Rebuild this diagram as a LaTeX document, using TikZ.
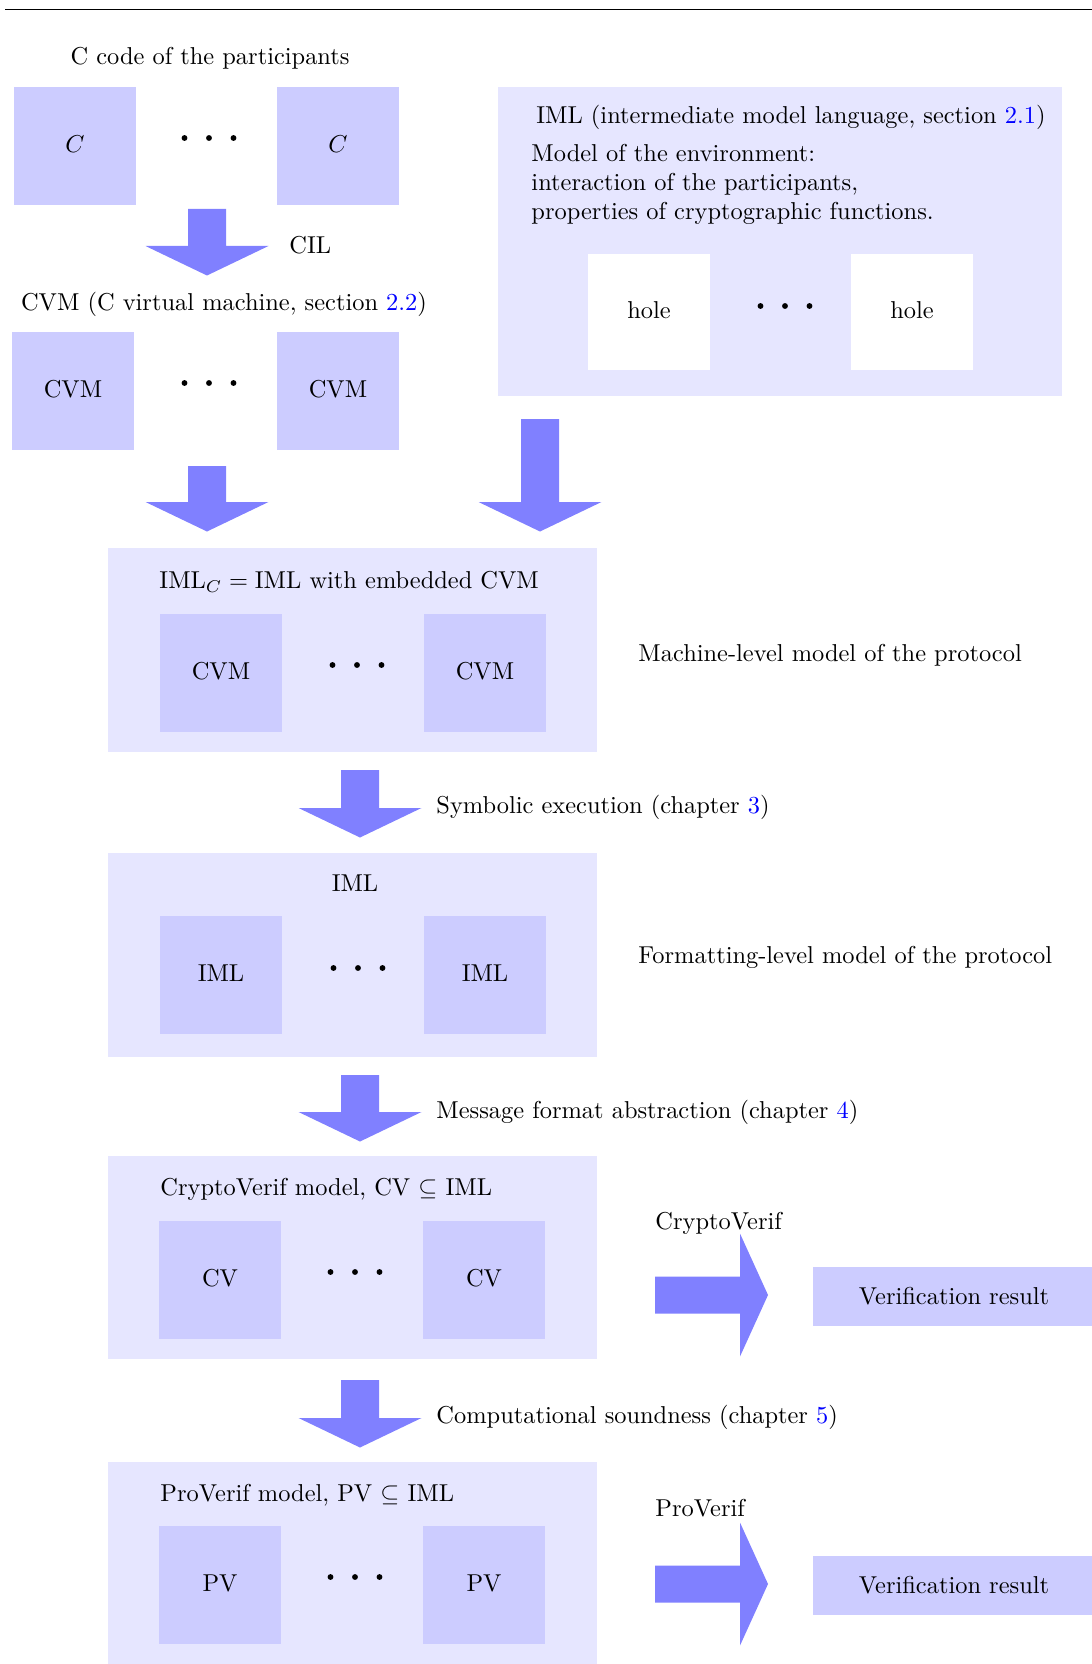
\documentclass[tikz,border=0pt]{standalone}
\usetikzlibrary{fit}
\definecolor{boxc}{RGB}{204,204,255}
\definecolor{contc}{RGB}{230,230,255}
\definecolor{arrc}{RGB}{128,128,255}
\newcommand\threedots[2]{\foreach \dx in {-24.5,0,24.5}{\fill ({#1+\dx},#2) circle[radius=1.2pt];}}
\begin{document}
\begin{tikzpicture}[x=0.4095pt,y=-0.4095pt,
  inbox/.style={fill=boxc, minimum width=49.96pt, minimum height=48.32pt, inner sep=0pt, text depth=1.4pt},
  holebox/.style={fill=white, minimum width=49.96pt, minimum height=47.9pt, inner sep=0pt, text depth=1.4pt},
  cont/.style={fill=contc, inner sep=0pt},
  lbl/.style={inner sep=0pt, text depth=0pt},
  resbox/.style={fill=boxc, minimum width=115.5pt, minimum height=24.16pt, inner sep=0pt},
  arrfill/.style={fill=arrc},
  pics/downarr/.style={code={\fill[arrfill] (-19,0) -- (19,0) -- (19,#1) -- (61.5,#1) -- (0,#1+29.5) -- (-61.5,#1) -- (-19,#1) -- cycle;}},
  pics/rightarr/.style={code={\fill[arrfill] (0,-18.5) -- (85,-18.5) -- (85,-61.5) -- (113,0) -- (85,61.5) -- (85,18.5) -- (0,18.5) -- cycle;}},
]
\useasboundingbox (0,0) rectangle (1092,1664);
\clip (0,0) rectangle (1092,1664);
% top rule
\draw[line width=0.4pt] (5,9.5) coordinate (tl) -- (1092,9.5) coordinate (tr);

% C code
\node[lbl] (ccode) at (210,56) {C code of the participants};
\node[inbox] (c1) at (75,146) {$C$};
\node[inbox] (c2) at (338,146) {$C$};
\threedots{209}{138}
\pic at (207,209) {downarr=37};
\node[lbl, anchor=west] (cil) at (289,245) {CIL};

% CVM
\node[lbl] (cvmtitle) at (224,301) {CVM (C virtual machine, section \textcolor{blue}{2.2})};
\node[inbox] (cvm1) at (73,391) {CVM};
\node[inbox] (cvm2) at (338,391) {CVM};
\threedots{209}{383}

% IML environment
\node[cont, fit={(498,87) (1062,396)}] (env) {};
\node[lbl] (imltitle) at (791,114) {IML (intermediate model language, section \textcolor{blue}{2.1})};
\node[lbl, anchor=west, align=left] (envtxt) at (531,182) {Model of the environment:\\interaction of the participants,\\properties of cryptographic functions.};
\node[holebox] (h1) at (649,312) {hole};
\node[holebox] (h2) at (912,312) {hole};
\threedots{785}{306}

\pic at (207,466) {downarr=36};
\pic at (540,419) {downarr=83};

% IML_C
\node[cont, fit={(108,548) (597,752)}] (imlc) {};
\node[lbl, anchor=west] (imlctitle) at (159,580) {$\mathrm{IML}_C = \mathrm{IML}$ with embedded CVM};
\node[inbox] (m1) at (221,673) {CVM};
\node[inbox] (m2) at (485,673) {CVM};
\threedots{357}{665}
\node[lbl, anchor=west] (mlevel) at (638,653) {Machine-level model of the protocol};

\pic at (360,770) {downarr=38};
\node[lbl, anchor=west] (symb) at (436,804) {Symbolic execution (chapter \textcolor{blue}{3})};

% IML
\node[cont, fit={(108,853) (597,1057)}] (iml) {};
\node[lbl] (imlt) at (355,883) {IML};
\node[inbox] (i1) at (221,975) {IML};
\node[inbox] (i2) at (485,975) {IML};
\threedots{358}{968}
\node[lbl, anchor=west] (flevel) at (638,955) {Formatting-level model of the protocol};

\pic at (360,1075) {downarr=37};
\node[lbl, anchor=west] (mfa) at (436,1109) {Message format abstraction (chapter \textcolor{blue}{4})};

% CV
\node[cont, fit={(108,1156) (597,1359)}] (cv) {};
\node[lbl, anchor=west] (cvt) at (160,1187) {CryptoVerif model, CV $\subseteq$ IML};
\node[inbox] (cv1) at (220,1280) {CV};
\node[inbox] (cv2) at (484,1280) {CV};
\threedots{355}{1272}
\node[lbl, anchor=west] (cvtool) at (655,1221) {CryptoVerif};
\pic at (655,1295) {rightarr};
\node[resbox] (vr1) at (954,1296) {Verification result};

\pic at (360,1380) {downarr=38};
\node[lbl, anchor=west] (cs) at (436,1414) {Computational soundness (chapter \textcolor{blue}{5})};

% PV
\node[cont, fit={(108,1462) (597,1665)}] (pv) {};
\node[lbl, anchor=west] (pvt) at (160,1493) {ProVerif model, PV $\subseteq$ IML};
\node[inbox] (pv1) at (220,1585) {PV};
\node[inbox] (pv2) at (484,1585) {PV};
\threedots{355}{1577}
\node[lbl, anchor=west] (pvtool) at (655,1508) {ProVerif};
\pic at (655,1584) {rightarr};
\node[resbox] (vr2) at (954,1585) {Verification result};
\end{tikzpicture}
\end{document}
